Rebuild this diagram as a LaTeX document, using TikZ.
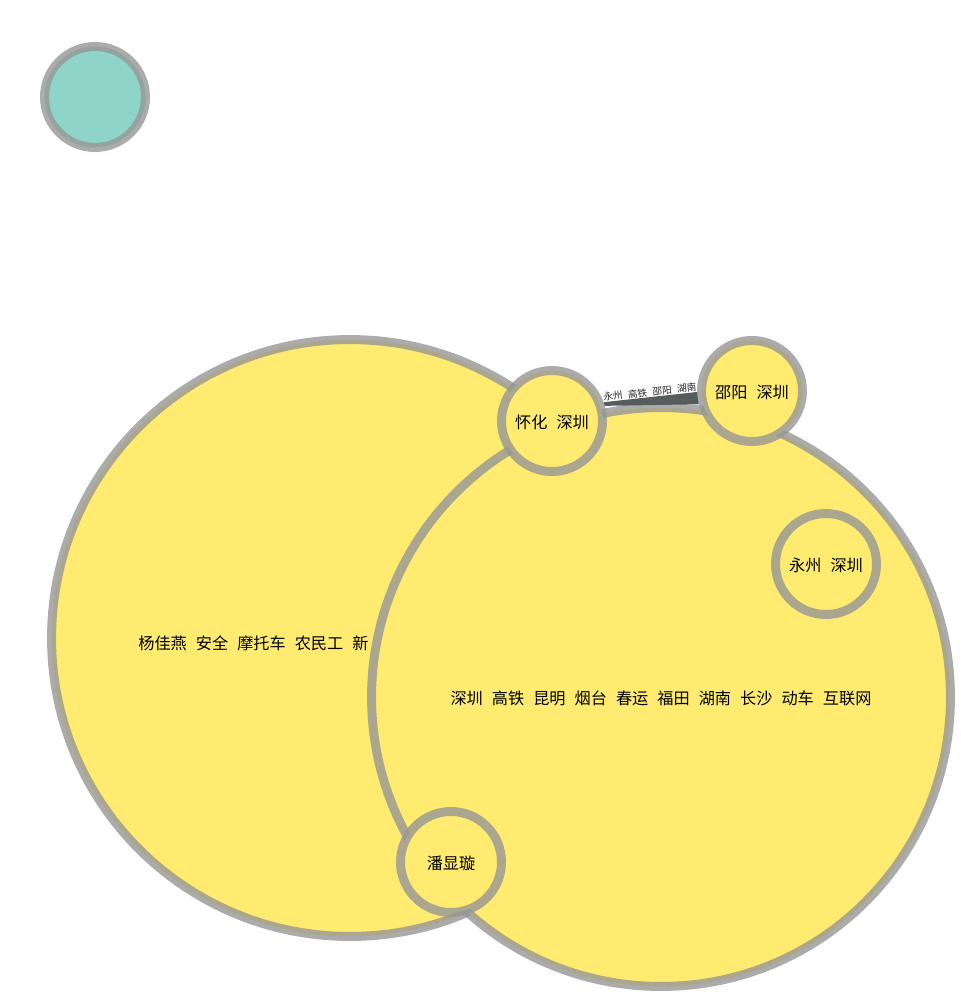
\documentclass[tikz,border=0pt]{standalone}
\usepackage{fontspec}
\newfontfamily\cjk{Noto Sans CJK SC}
\definecolor{topicyellow}{HTML}{FEEB6F}
\definecolor{topicteal}{HTML}{8FD4C8}
\definecolor{ringgray}{HTML}{969696}
\definecolor{wedgegray}{HTML}{565D5D}
\newcommand\widecjk[1]{\cjk\fontsize{#1}{#1}\selectfont\fontdimen2\font=0.56em\fontdimen3\font=0pt\fontdimen4\font=0pt\relax}
\begin{document}
\begin{tikzpicture}[x=0.02cm, y=-0.02cm,
    topic/.style={circle, draw=ringgray, draw opacity=0.8, line width=5.1pt, fill=topicyellow, inner sep=0pt, text height=10pt, text depth=1pt, font=\widecjk{9.2}},
    small/.style={topic, minimum size=2.02cm},
    edgetext/.style={font=\widecjk{5.5}, text=black!85, inner sep=0.6pt}]
    \useasboundingbox (0,0) rectangle (960,1000);

    \node[small, fill=topicteal] (lone) at (95,97) {};

    \node[topic, minimum size=11.94cm] (yang) at (350,638) {};
    \node[anchor=west, inner sep=0pt, font=\widecjk{9.2}] (yanglabel) at (138,643) {杨佳燕 安全 摩托车 农民工 新};
    \node[topic, minimum size=11.58cm] (shenzhen) at (661,697) {深圳 高铁 昆明 烟台 春运 福田 湖南 长沙 动车 互联网};

    \node[small] (huaihua) at (552,421) {怀化 深圳};
    \node[small] (shaoyang) at (752,391) {邵阳 深圳};
    \node[small] (yongzhou) at (826,564) {永州 深圳};
    \node[small] (panxian) at (451,862) {潘显璇};

    % tapered link between the two city nodes
    \fill[wedgegray] (huaihua.20) -- (shaoyang.181) -- (shaoyang.194) -- (huaihua.16) -- cycle;
    \path (huaihua.19) -- node[sloped, above, edgetext] (linklabel) {永州 高铁 邵阳 湖南} (shaoyang.182);
\end{tikzpicture}
\end{document}
